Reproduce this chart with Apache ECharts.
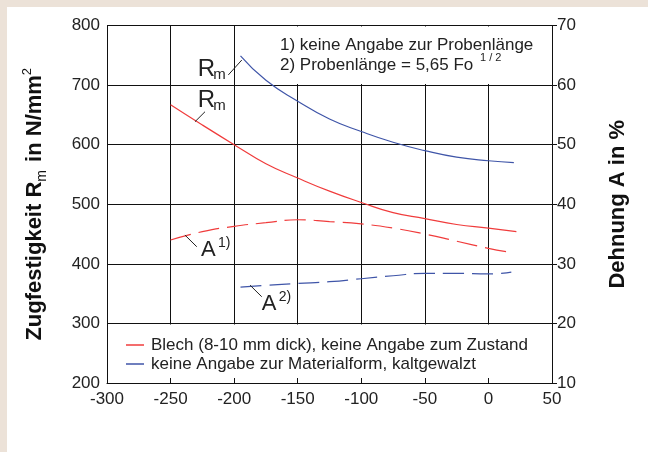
<!DOCTYPE html>
<html><head><meta charset="utf-8">
<script src="https://cdn.jsdelivr.net/npm/echarts@6/dist/echarts.min.js"></script>
<style>html,body{margin:0;padding:0;background:#fff}#c{width:648px;height:452px}</style>
</head><body><div id="c"></div>
<script>
const FONT = '"Liberation Sans", Arial, sans-serif';
const seriesNames = ['Blech (8-10 mm dick), keine Angabe zum Zustand', 'keine Angabe zur Materialform, kaltgewalzt'];
const seriesColors = ['#f03c3c', '#3f55a8'];

// Zugfestigkeit Rm (left axis)
const redRmT = [-250, -225, -200, -175, -150, -125, -100, -75, -50, -25, 0, 22];
const redRm  = [667, 633, 600, 568, 544, 522, 503, 486, 476, 466, 460, 454];
const blueRmT = [-195, -175, -150, -125, -100, -75, -50, -25, 0, 20];
const blueRm  = [749, 708, 673, 643, 622, 604, 590, 579, 573, 570];
// Dehnung A (right axis)
const redAT = [-250, -225, -200, -175, -150, -125, -100, -75, -50, -25, 0, 18];
const redA  = [34.0, 35.4, 36.3, 36.9, 37.4, 37.1, 36.7, 36.0, 35.0, 33.8, 32.6, 31.9];
const blueAT = [-195, -175, -150, -125, -100, -75, -50, -25, 0, 18];
const blueA  = [26.1, 26.4, 26.7, 27.0, 27.5, 28.0, 28.4, 28.4, 28.3, 28.6];

// axis ranges [min, max, interval]
const xRange = [-300, 50, 50];
const rmRange = [200, 800, 100];
const aRange = [10, 70, 10];

// curve labels: main letter, index, anchor (data coords on left axis), leader line
const curveLabels = [
  { main: 'R', idx: 'm', sub: true,  pos: [-228.7, 727], leader: [[-204.6, 717], [-194, 742]] },
  { main: 'R', idx: 'm', sub: true,  pos: [-228.7, 675], leader: [[-230.8, 638.5], [-222.9, 655.3]] },
  { main: 'A', idx: '1)', sub: false, pos: [-226.1, 424], leader: [[-238.7, 448.3], [-229.4, 428.7]] },
  { main: 'A', idx: '2)', sub: false, pos: [-178.3, 333.4], leader: [[-187.5, 364.2], [-178.3, 344.8]] }
];
const notes = ['1) keine Angabe zur Probenlänge', '2) Probenlänge = 5,65 Fo'];
const noteSup = '1 / 2';

function pairs(t, v) { return t.map((x, i) => [x, v[i]]); }

const chart = echarts.init(document.getElementById('c'), null, { renderer: 'canvas' });
const axisColor = '#111';
const lab = { fontSize: 17, color: '#222', fontFamily: FONT };

function lineSeries(name, color, data, yIdx, dashed) {
  return {
    name, type: 'line', data, yAxisIndex: yIdx, showSymbol: false, symbol: 'none',
    smooth: 0.5, z: 3,
    lineStyle: { color, width: 1.2, type: dashed ? [21, 8] : 'solid' },
    itemStyle: { color }, emphasis: { disabled: true }
  };
}

chart.setOption({
  animation: false,
  backgroundColor: '#fff',
  grid: { left: 107, right: 96, top: 25.5, bottom: 69, containLabel: false },
  xAxis: {
    type: 'value', min: xRange[0], max: xRange[1], interval: xRange[2],
    axisLine: { lineStyle: { color: axisColor, width: 1 } },
    axisTick: { show: false },
    axisLabel: Object.assign({ margin: 8 }, lab),
    splitLine: { show: true, lineStyle: { color: axisColor, width: 1 } }
  },
  yAxis: [{
    type: 'value', position: 'left', min: rmRange[0], max: rmRange[1], interval: rmRange[2],
    axisLine: { show: true, lineStyle: { color: axisColor, width: 1 } },
    axisTick: { show: true, length: 5, lineStyle: { color: axisColor } },
    axisLabel: Object.assign({ margin: 7 }, lab),
    splitLine: { show: true, lineStyle: { color: axisColor, width: 1 } },
    name: 'Zugfestigkeit R{s|m} in N/mm{p|2}', nameLocation: 'middle', nameRotate: 90, nameGap: 58,
    nameTextStyle: {
      fontSize: 22, fontWeight: 'bold', color: '#111', fontFamily: FONT, lineHeight: 28,
      rich: {
        s: { fontSize: 14, fontWeight: 'normal', color: '#111', fontFamily: FONT, verticalAlign: 'bottom', lineHeight: 28, padding: [0, 2, 0, 0] },
        p: { fontSize: 13, fontWeight: 'normal', color: '#111', fontFamily: FONT, verticalAlign: 'top', lineHeight: 28 }
      }
    }
  }, {
    type: 'value', position: 'right', min: aRange[0], max: aRange[1], interval: aRange[2],
    axisLine: { show: true, lineStyle: { color: axisColor, width: 1 } },
    axisTick: { show: true, length: 5, lineStyle: { color: axisColor } },
    axisLabel: Object.assign({ margin: 5 }, lab),
    splitLine: { show: false },
    name: 'Dehnung A in %', nameLocation: 'middle', nameRotate: 90, nameGap: 55,
    nameTextStyle: { fontSize: 22, fontWeight: 'bold', color: '#111', fontFamily: FONT }
  }],
  legend: {
    data: seriesNames, orient: 'vertical', left: 121, top: 331, itemGap: 1,
    itemWidth: 18, itemHeight: 1.5, icon: 'rect', selectedMode: false,
    textStyle: { fontSize: 17, color: '#222', fontFamily: FONT, lineHeight: 18, padding: [0, 0, 0, 2] }
  },
  series: [
    lineSeries(seriesNames[0], seriesColors[0], pairs(redRmT, redRm), 0, false),
    lineSeries(seriesNames[0], seriesColors[0], pairs(redAT, redA), 1, true),
    lineSeries(seriesNames[1], seriesColors[1], pairs(blueRmT, blueRm), 0, false),
    lineSeries(seriesNames[1], seriesColors[1], pairs(blueAT, blueA), 1, true)
  ]
});

const px = p => chart.convertToPixel({ xAxisIndex: 0, yAxisIndex: 0 }, p);
const gl = px([xRange[0], rmRange[0]]);
const gr = px([xRange[1], rmRange[1]]);
const y300 = px([0, 300])[1];
const y700 = px([0, 700])[1];
const xNote = px([-194, 0])[0];
const els = [];
// page frame
els.push({ type: 'rect', shape: { x: 0, y: 0, width: 648, height: 7 }, style: { fill: '#ece2d8' }, z: 1 });
els.push({ type: 'rect', shape: { x: 0, y: 0, width: 7, height: 452 }, style: { fill: '#ece2d8' }, z: 1 });
// legend area and note area masks
els.push({ type: 'rect', shape: { x: gl[0] + 1, y: y300 + 1, width: gr[0] - gl[0] - 2, height: gl[1] - y300 - 6 }, style: { fill: '#fff' }, z: 1 });
els.push({ type: 'rect', shape: { x: xNote, y: gr[1] + 1, width: gr[0] - xNote - 1, height: y700 - gr[1] - 2 }, style: { fill: '#fff' }, z: 1 });
// notes
els.push({ type: 'text', x: 280, y: 45, z: 10, style: { text: notes[0], fontSize: 17, fill: '#222', fontFamily: FONT, align: 'left', verticalAlign: 'middle' } });
els.push({ type: 'text', x: 280, y: 65, z: 10, style: { text: notes[1], fontSize: 17, fill: '#222', fontFamily: FONT, align: 'left', verticalAlign: 'middle' } });
els.push({ type: 'text', x: 480, y: 58, z: 10, style: { text: noteSup, fontSize: 11, fill: '#222', fontFamily: FONT, align: 'left', verticalAlign: 'middle' } });
// curve labels
curveLabels.forEach(c => {
  const p = px(c.pos);
  const a = px(c.leader[0]), b = px(c.leader[1]);
  els.push({ type: 'line', shape: { x1: a[0], y1: a[1], x2: b[0], y2: b[1] }, style: { stroke: '#222', lineWidth: 1 }, z: 10 });
  const big = c.main === 'R' ? 24 : 22;
  els.push({ type: 'text', x: p[0], y: p[1], z: 10, style: { text: c.main, fontSize: big, fill: '#222', fontFamily: FONT, align: 'left', verticalAlign: 'middle' } });
  els.push({ type: 'text', x: p[0] + (c.sub ? 15.5 : 17), y: p[1] + (c.sub ? 6 : -6), z: 10, style: { text: c.idx, fontSize: c.sub ? 15 : 14, fill: '#222', fontFamily: FONT, align: 'left', verticalAlign: 'middle' } });
});
chart.setOption({ graphic: { elements: els } });
</script>
</body></html>
